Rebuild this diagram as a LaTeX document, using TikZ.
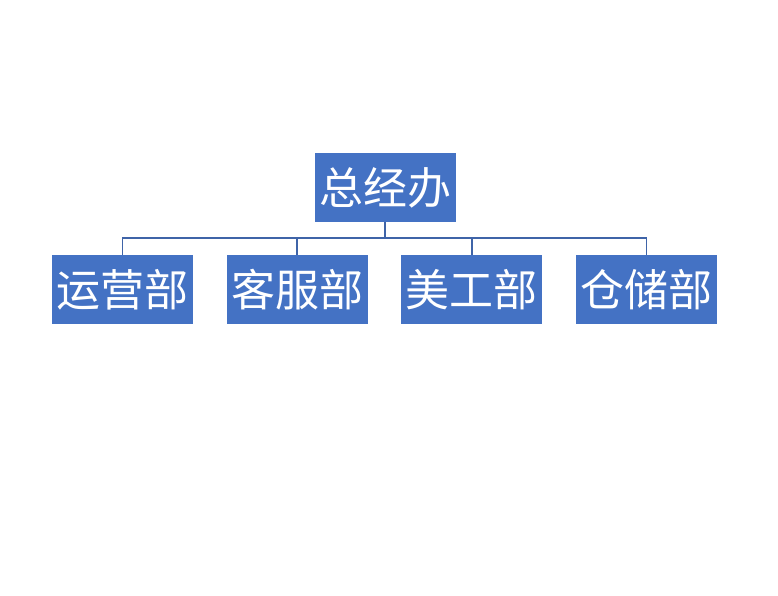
\documentclass[tikz,border=0pt]{standalone}
\usepackage{fontspec}
\newfontfamily\cjk{Noto Sans CJK SC}
\usetikzlibrary{positioning,calc}

\definecolor{boxblue}{HTML}{4472C4}
\definecolor{linkblue}{HTML}{3F64A8}

\begin{document}
\begin{tikzpicture}[
  x=1pt, y=1pt,
  font=\cjk\fontsize{44}{48}\selectfont,
  dept/.style={fill=boxblue, text=white, minimum width=141pt, minimum height=69pt, inner sep=0pt},
  link/.style={draw=linkblue, line width=1.6pt},
  node distance=33pt and 33.3pt
]
\useasboundingbox (0,0) rectangle (778,-596);

\node[dept] (zongjing) at (385,-187.5) {总经办};

\node[dept] (yunying) at (122.5,-289.5) {运营部};
\node[dept, right=of yunying] (kefu) {客服部};
\node[dept, right=of kefu] (meigong) {美工部};
\node[dept, right=of meigong] (cangchu) {仓储部};

\coordinate (fork) at ($(zongjing.south)+(0,-16)$);
\draw[link] (zongjing.south) -- (fork);
\draw[link] (fork) -| (yunying.north);
\draw[link] (fork) -| (kefu.north);
\draw[link] (fork) -| (meigong.north);
\draw[link] (fork) -| (cangchu.north);

\end{tikzpicture}
\end{document}
